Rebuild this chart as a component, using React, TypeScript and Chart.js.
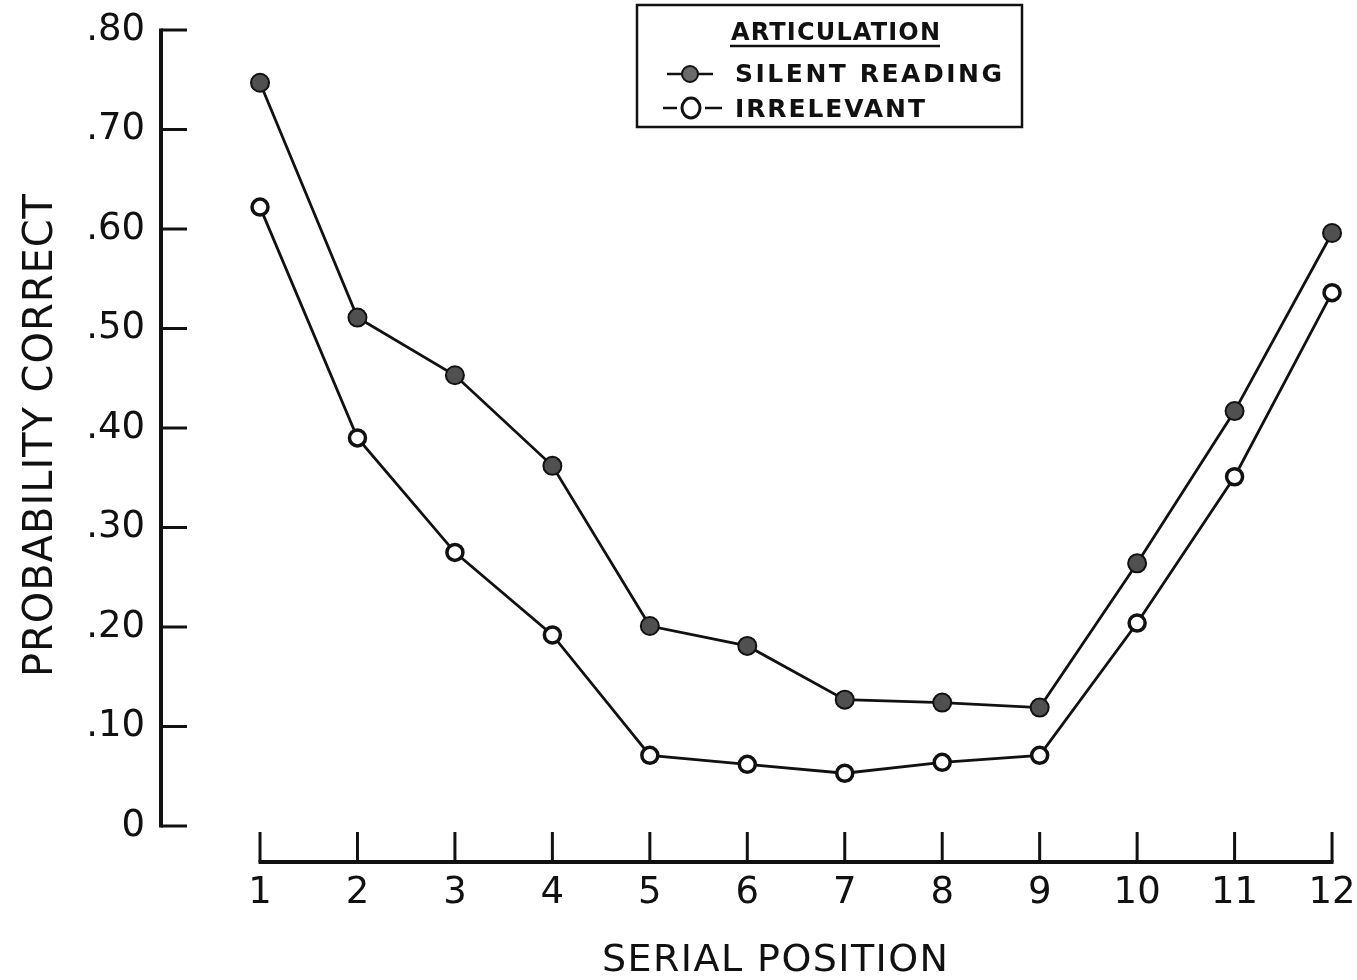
import React, { useEffect, useRef } from 'react';
import { Chart, registerables } from 'chart.js';

Chart.register(...registerables);

const positions = [1, 2, 3, 4, 5, 6, 7, 8, 9, 10, 11, 12];
const silentReading = [0.747, 0.511, 0.453, 0.362, 0.201, 0.181, 0.127, 0.124, 0.119, 0.264, 0.417, 0.596];
const irrelevant = [0.622, 0.390, 0.275, 0.192, 0.071, 0.062, 0.053, 0.064, 0.071, 0.204, 0.351, 0.536];
const yTicks = [0, 0.1, 0.2, 0.3, 0.4, 0.5, 0.6, 0.7, 0.8];
const xTicks = positions;
const seriesLabels = ['SILENT READING', 'IRRELEVANT'];
const legendTitle = 'ARTICULATION';
const xTitle = 'SERIAL POSITION';
const yTitle = 'PROBABILITY CORRECT';

const FONT = '"DejaVu Sans", sans-serif';
const INK = '#111111';

function fitText(
  ctx: CanvasRenderingContext2D,
  text: string,
  left: number,
  centerY: number,
  width: number,
  size: number,
  weight = 'normal'
) {
  ctx.font = `${weight} ${size}px ${FONT}`;
  (ctx as any).letterSpacing = '0px';
  const w = ctx.measureText(text).width;
  const n = text.length;
  const sp = n > 1 ? (width - w) / (n - 1) : 0;
  (ctx as any).letterSpacing = `${sp}px`;
  ctx.textAlign = 'left';
  ctx.textBaseline = 'alphabetic';
  ctx.fillText(text, left, centerY + 0.365 * size);
  (ctx as any).letterSpacing = '0px';
}

const axesPlugin = {
  id: 'customAxes',
  beforeDatasetsDraw(chart: any) {
    const ctx = chart.ctx as CanvasRenderingContext2D;
    const ys = chart.scales.y;
    const xs = chart.scales.x;
    const x0 = chart.chartArea.left;
    ctx.save();
    ctx.strokeStyle = INK;
    ctx.lineCap = 'butt';
    // y axis
    ctx.lineWidth = 4;
    ctx.beginPath();
    ctx.moveTo(x0, ys.getPixelForValue(yTicks[yTicks.length - 1]) - 1.5);
    ctx.lineTo(x0, ys.getPixelForValue(0) + 1.5);
    ctx.stroke();
    ctx.lineWidth = 3;
    yTicks.forEach((v) => {
      const py = ys.getPixelForValue(v);
      ctx.beginPath();
      ctx.moveTo(x0, py);
      ctx.lineTo(x0 + 26, py);
      ctx.stroke();
    });
    // x axis (detached)
    const yLine = ys.getPixelForValue(0) + 36;
    ctx.lineWidth = 4;
    ctx.beginPath();
    ctx.moveTo(xs.getPixelForValue(xTicks[0]) - 1.5, yLine);
    ctx.lineTo(xs.getPixelForValue(xTicks[xTicks.length - 1]) + 1.5, yLine);
    ctx.stroke();
    ctx.lineWidth = 3;
    xTicks.forEach((v) => {
      const px = xs.getPixelForValue(v);
      ctx.beginPath();
      ctx.moveTo(px, yLine);
      ctx.lineTo(px, yLine - 30);
      ctx.stroke();
    });
    ctx.restore();
  },
  afterDraw(chart: any) {
    const ctx = chart.ctx as CanvasRenderingContext2D;
    ctx.save();
    ctx.fillStyle = INK;
    ctx.strokeStyle = INK;
    // axis titles
    ctx.save();
    ctx.translate(37, 436);
    ctx.rotate(-Math.PI / 2);
    fitText(ctx, yTitle, -241, 0, 483, 40);
    ctx.restore();
    fitText(ctx, xTitle, 602, 957, 346, 38);

    // legend box
    ctx.lineWidth = 2.5;
    ctx.strokeRect(637, 5, 385, 122);
    fitText(ctx, legendTitle, 731, 31, 209, 24, 'bold');
    ctx.lineWidth = 2.5;
    ctx.beginPath();
    ctx.moveTo(730, 46);
    ctx.lineTo(940, 46);
    ctx.stroke();

    // row 1 symbol
    ctx.lineWidth = 2.5;
    ctx.beginPath();
    ctx.moveTo(667, 74);
    ctx.lineTo(713, 74);
    ctx.stroke();
    ctx.beginPath();
    ctx.arc(690, 74, 8, 0, Math.PI * 2);
    ctx.fillStyle = '#6a6a6a';
    ctx.fill();
    ctx.lineWidth = 2;
    ctx.stroke();
    ctx.fillStyle = INK;
    fitText(ctx, seriesLabels[0], 735, 73, 267, 25, 'bold');

    // row 2 symbol
    ctx.lineWidth = 2.5;
    ctx.beginPath();
    ctx.moveTo(663, 108);
    ctx.lineTo(677, 108);
    ctx.moveTo(705, 108);
    ctx.lineTo(722, 108);
    ctx.stroke();
    ctx.beginPath();
    ctx.ellipse(691, 108, 9, 10, 0, 0, Math.PI * 2);
    ctx.fillStyle = '#ffffff';
    ctx.fill();
    ctx.lineWidth = 3;
    ctx.stroke();
    ctx.fillStyle = INK;
    fitText(ctx, seriesLabels[1], 735, 108, 190, 25, 'bold');
    ctx.restore();
  },
};

function yLabel(v: number): string {
  if (v === 0) return '0';
  return '.' + Math.round(v * 100).toString().padStart(2, '0');
}

export default function App() {
  const ref = useRef<HTMLCanvasElement | null>(null);

  useEffect(() => {
    if (!ref.current) return;
    const chart = new Chart(ref.current, {
      type: 'line',
      data: {
        datasets: [
          {
            label: seriesLabels[0],
            data: positions.map((p, i) => ({ x: p, y: silentReading[i] })),
            borderColor: INK,
            borderWidth: 2.8,
            pointRadius: 9,
            pointBackgroundColor: '#505050',
            pointBorderColor: INK,
            pointBorderWidth: 2,
            tension: 0,
          },
          {
            label: seriesLabels[1],
            data: positions.map((p, i) => ({ x: p, y: irrelevant[i] })),
            borderColor: INK,
            borderWidth: 2.8,
            pointRadius: 8,
            pointBackgroundColor: '#ffffff',
            pointBorderColor: INK,
            pointBorderWidth: 3.5,
            tension: 0,
          },
        ],
      },
      options: {
        responsive: false,
        animation: false,
        devicePixelRatio: 1,
        layout: { padding: { left: 0, top: 30, right: 12, bottom: 0 } },
        plugins: { legend: { display: false }, tooltip: { enabled: false }, title: { display: false } },
        scales: {
          x: {
            type: 'linear',
            min: -0.016,
            max: 12.133,
            afterFit: (s: any) => {
              s.height = 980 - 826;
              s.paddingLeft = 0;
              s.paddingRight = 0;
            },
            afterBuildTicks: (s: any) => { s.ticks = xTicks.map((v) => ({ value: v })); },
            grid: { display: false, drawTicks: false },
            border: { display: false },
            ticks: {
              padding: 45,
              color: INK,
              font: { family: FONT, size: 37 },
              maxRotation: 0,
              autoSkip: false,
              callback: (v: any) => String(v),
            },
          },
          y: {
            type: 'linear',
            min: 0,
            max: 0.8,
            afterFit: (s: any) => {
              s.width = 161;
              s.paddingTop = 0;
              s.paddingBottom = 0;
            },
            afterBuildTicks: (s: any) => { s.ticks = yTicks.map((v) => ({ value: v })); },
            grid: { display: false, drawTicks: false },
            border: { display: false },
            ticks: {
              padding: 16,
              color: INK,
              font: { family: FONT, size: 37 },
              autoSkip: false,
              callback: (v: any) => yLabel(Number(v)),
            },
          },
        },
      },
      plugins: [axesPlugin],
    });
    return () => chart.destroy();
  }, []);

  return (
    <div style={{ position: 'absolute', left: 0, top: 0, width: 1357, height: 980, background: '#ffffff' }}>
      <canvas ref={ref} width={1357} height={980} style={{ display: 'block' }} />
    </div>
  );
}
